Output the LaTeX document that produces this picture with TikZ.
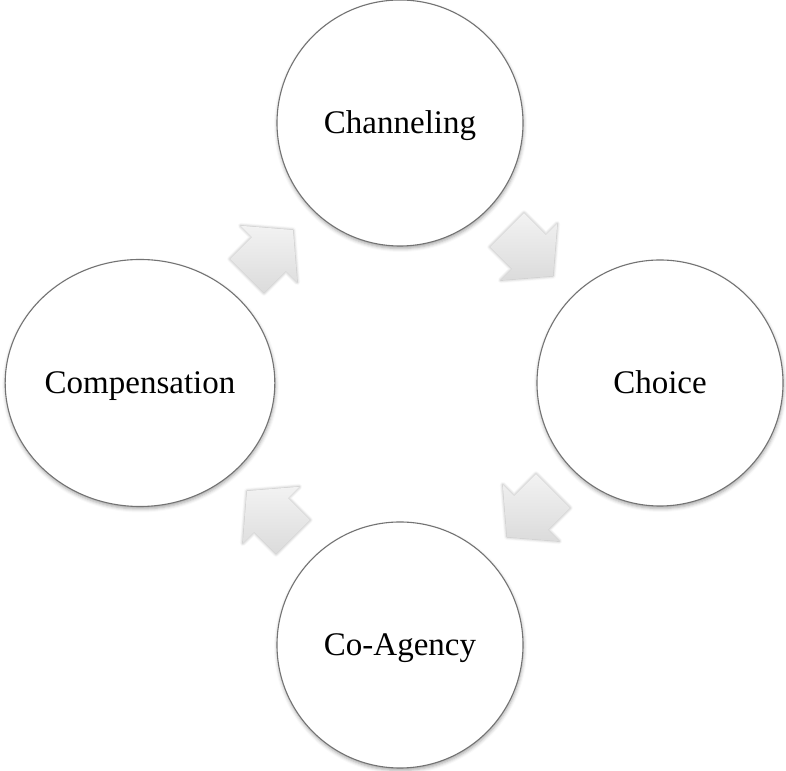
\documentclass[tikz,border=0pt]{standalone}
\usepackage{fontspec}
\setmainfont{Liberation Serif}
\usetikzlibrary{shapes.geometric,shadows.blur,calc}

\begin{document}
\begin{tikzpicture}[x=1pt,y=1pt,
  stage/.style={draw=black!55, line width=1.1pt, fill=white, inner sep=0pt,
    font=\fontsize{33}{39}\selectfont, text height=24pt, text depth=3pt,
    blur shadow={shadow xshift=0.5pt, shadow yshift=-2.5pt,
                 shadow blur radius=3.5pt, shadow opacity=35}},
  round stage/.style={stage, circle, minimum size=246pt},
  oval stage/.style={stage, ellipse, minimum width=267pt, minimum height=247pt},
  cyclearrow/.pic={
    \path[top color=black!5, bottom color=black!14,
          blur shadow={shadow xshift=0pt, shadow yshift=0pt,
                       shadow blur radius=3pt, shadow opacity=35}]
      (-32.5,-24) -- (-1.5,-24) -- (-1.5,-40) -- (32.5,0)
      -- (-1.5,40) -- (-1.5,24) -- (-32.5,24) -- cycle;
  }]
  \useasboundingbox (0,0) rectangle (786,770);

  % the four stages of the cycle
  \node[round stage] (chan)   at (400,647) {Channeling};
  \node[round stage] (choice) at (660,387) {Choice};
  \node[round stage] (coag)   at (400,125) {Co-Agency};
  \node[oval stage]  (comp)   at (140,387) {Compensation};

  % block arrows half way between neighbouring stages
  \path ($(comp.center)!0.5!(chan.center)$)   pic[rotate=45]   {cyclearrow};
  \path ($(chan.center)!0.5!(choice.center)$) pic[rotate=-45]  {cyclearrow};
  \path ($(choice.center)!0.5!(coag.center)$) pic[rotate=-135] {cyclearrow};
  \path ($(coag.center)!0.5!(comp.center)$)   pic[rotate=135]  {cyclearrow};
\end{tikzpicture}
\end{document}
